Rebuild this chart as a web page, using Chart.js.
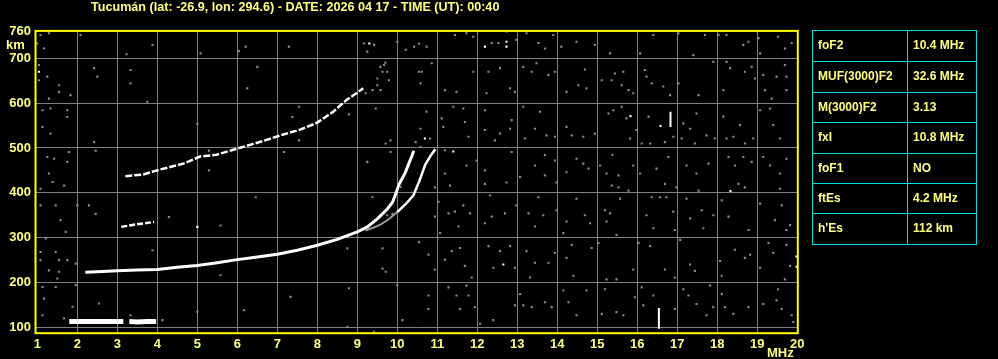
<!DOCTYPE html>
<html>
<head>
<meta charset="utf-8">
<script src="https://cdn.jsdelivr.net/npm/chart.js@4"></script>
<style>
  html, body { margin:0; padding:0; background:#000; }
  #wrap { position:relative; width:998px; height:359px; overflow:hidden; }
  #titulo { position:absolute; left:91px; top:-1px; color:#ffff80; font:bold 13px "Liberation Sans", Arial, sans-serif; white-space:nowrap; transform-origin:left top; }
  #tabla { position:absolute; left:812px; top:30px; width:165px; border:1px solid #00e0e0; box-sizing:border-box; }
  .fila { display:flex; height:30.4px; border-top:1px solid #00e0e0; box-sizing:border-box; }
  .fila:first-child { border-top:none; }
  .fila div { color:#ffff80; font:bold 12px "Liberation Sans", Arial, sans-serif; line-height:29px; padding-left:5px; box-sizing:border-box; }
  .fila div:first-child { width:95px; border-right:1px solid #00e0e0; }
</style>
</head>
<body>
<div id="wrap">
  <canvas id="ionograma" width="998" height="359"></canvas>
  <div id="titulo">Tucumán (lat: -26.9, lon: 294.6) - DATE: 2026 04 17 - TIME (UT): 00:40</div>
  <div id="tabla"></div>
</div>
<script>
//========================= datos del ionograma ============================
const xTicks = [1,2,3,4,5,6,7,8,9,10,11,12,13,14,15,16,17,18,19,20];   // MHz
const yTicks = [100,200,300,400,500,600,700,760];                        // km

const paramNames  = ['foF2','MUF(3000)F2','M(3000)F2','fxI','foF1','ftEs',"h'Es"];
const paramValues = ['10.4 MHz','32.6 MHz','3.13','10.8 MHz','NO','4.2 MHz','112 km'];

// capa Es
const esFreq   = [1.80,2.00,2.30,2.60,2.90,3.15,null,3.30,3.50,3.75,3.97];
const esHeight = [113,113,113,113,113,113,null,113,112,113,113];

// traza F ordinaria
const foFreq   = [2.20,2.50,3.00,3.50,4.00,4.50,5.00,5.50,6.00,6.50,7.00,7.50,8.00,8.50,9.00,9.25,9.50,9.75,9.88,9.95,10.05,10.20,10.30,10.36,10.41];
const foHeight = [223,224,226,228,229,234,238,244,251,257,263,272,283,296,313,324,342,364,379,395,420,445,468,481,494];

// traza F extraordinaria
const fxFreqGray   = [9.20,9.40,9.60,9.80,10.00];
const fxHeightGray = [316,322,330,342,357];
const fxFreq   = [10.00,10.20,10.40,10.55,10.70,10.85,10.95];
const fxHeight = [357,374,394,426,463,485,497];

// segundo salto F
const f2Freq   = [3.20,3.65,4.07,4.65,5.07,5.48,5.90,6.32,6.73,7.15,7.57,7.99,8.40,8.73,9.15];
const f2Height = [437,441,452,465,481,485,496,507,518,530,541,556,581,607,633];

// eco a ~330 km
const e2Freq   = [3.10,3.50,3.92];
const e2Height = [324,330,335];

// espigas verticales
const spike1Freq = [16.54,16.54], spike1Height = [97,143];
const spike2Freq = [16.83,16.83], spike2Height = [547,581];

// ecos blancos sueltos
const whiteDots = [[12.19,726],[12.73,737],[12.73,726],[10.69,521],[11.40,492],[15.83,571],[16.58,549],
  [18.33,404],[12.65,240],[19.98,235],[1.04,670],[5.00,324],[9.30,733],[19.98,258]];

// ruido gris
const noisePts = [
  [10.73,726],[11.44,752],[11.73,756],[11.90,748],[12.36,734],[12.53,734],[12.73,760],[12.98,741],[13.23,756],[13.53,734],
  [13.69,722],[13.90,752],[14.10,726],[14.48,737],[14.94,730],[15.03,761],[15.32,711],[15.65,761],[16.07,711],[16.40,752],
  [17.03,756],[17.19,761],[17.40,707],[17.69,752],[18.03,752],[18.23,752],[18.65,730],[18.78,737],[19.03,745],[19.07,711],
  [19.52,748],[19.69,722],[19.86,734],
  [10.61,670],[10.86,689],[11.19,629],[11.48,625],[11.90,670],[12.28,670],[12.23,622],[12.57,678],[12.82,633],[12.94,625],
  [13.15,681],[13.36,670],[13.48,689],[13.78,663],[13.94,670],[14.23,625],[14.53,640],[14.69,675],[14.73,633],[15.11,651],
  [15.36,651],[15.44,666],[15.65,670],[15.61,640],[15.78,629],[15.90,622],[16.19,674],[16.23,659],[16.36,644],[16.65,637],
  [16.82,618],[17.03,644],[17.53,618],[17.90,692],[18.15,629],[18.23,692],[18.32,678],[18.69,670],[18.86,681],[18.94,655],
  [19.15,663],[19.19,629],[19.36,610],[19.48,659],[19.69,685],[19.73,629],[19.73,659],
  [10.73,581],[10.82,521],[11.11,566],[11.15,547],[11.40,592],[11.65,588],[11.69,558],[11.78,525],[12.19,584],[12.19,540],
  [12.44,517],[12.57,532],[12.86,562],[12.82,543],[13.15,592],[13.19,521],[13.44,543],[13.57,581],[13.73,528],[13.94,525],
  [14.23,547],[14.36,528],[14.65,525],[14.94,532],[15.28,577],[15.40,584],[15.61,592],[15.73,566],[15.82,521],[15.98,540],
  [16.11,510],[16.28,570],[16.32,510],[16.69,513],[16.90,525],[17.11,521],[17.15,555],[17.32,543],[17.44,510],[17.48,577],
  [17.73,528],[17.94,521],[18.15,570],[18.23,521],[18.40,525],[18.57,551],[18.69,510],[18.90,521],[19.07,584],[19.32,588],
  [19.40,551],[19.57,521],
  [11.19,495],[11.19,443],[11.73,461],[11.98,472],[12.19,450],[12.86,491],[13.07,435],[13.44,461],[13.69,484],[13.69,439],
  [13.94,472],[14.23,446],[14.48,476],[14.65,465],[14.78,454],[15.07,461],[15.23,443],[15.38,485],[15.53,439],[15.90,461],
  [16.07,443],[16.48,454],[16.78,480],[17.23,461],[17.48,443],[17.78,465],[18.28,480],[18.44,461],[18.65,480],[18.86,469],
  [19.15,480],[19.32,461],[19.57,443],[19.73,476],
  [10.94,412],[11.32,416],[12.19,420],[12.73,423],[13.98,423],[15.36,416],[15.53,412],[15.78,405],[16.69,420],[16.98,412],
  [17.53,405],[18.53,420],[18.69,412],[19.57,409],
  [10.94,347],[11.03,380],[11.28,354],[11.44,358],[11.65,372],[11.82,354],[11.53,325],[11.07,310],[12.19,332],[12.36,347],
  [12.69,354],[12.32,394],[12.98,372],[13.28,354],[13.53,390],[13.65,350],[13.44,325],[13.98,361],[14.23,336],[14.48,387],
  [14.69,350],[14.82,332],[14.15,310],[15.19,361],[15.32,354],[15.57,387],[15.23,336],[15.48,306],[16.23,350],[16.36,390],
  [16.40,321],[16.57,390],[16.73,390],[16.90,358],[16.94,317],[17.23,387],[17.32,343],[17.61,361],[17.65,321],[17.90,350],
  [18.11,383],[18.28,347],[18.78,317],[19.07,376],[19.44,339],[19.61,372],[19.82,328],[19.73,317],
  [10.78,262],[10.94,229],[11.19,251],[11.36,270],[11.57,277],[11.69,237],[11.86,211],[12.28,281],[12.57,270],[12.40,233],
  [12.82,281],[12.94,233],[13.23,270],[13.32,211],[13.44,244],[13.78,244],[13.94,266],[14.23,255],[14.40,215],[14.36,284],
  [14.86,277],[15.03,288],[15.23,207],[15.48,207],[15.90,229],[16.03,288],[16.32,281],[16.69,229],[16.94,211],[17.07,295],
  [17.32,240],[17.44,226],[18.07,248],[18.11,215],[18.44,273],[18.69,255],[18.82,262],[19.07,233],[19.28,288],[19.40,266],
  [19.73,284],[19.82,237],[19.69,207],
  [10.78,171],[10.78,141],[11.28,189],[11.48,171],[11.78,171],[11.57,141],[11.73,193],[11.94,145],[12.07,108],[12.40,116],
  [12.94,149],[13.07,174],[13.15,149],[13.36,145],[13.69,156],[13.86,145],[14.15,182],[14.28,156],[14.48,127],[14.73,182],
  [15.19,185],[15.11,130],[15.48,134],[15.65,127],[15.94,167],[16.11,189],[16.15,149],[16.40,171],[16.94,141],[17.15,185],
  [17.28,171],[17.48,152],[17.73,127],[17.82,193],[17.90,145],[18.11,174],[18.19,145],[18.40,130],[18.78,145],[19.15,152],
  [19.48,160],[19.52,185],[19.61,141],[19.86,127],[19.90,112],
  [1.08,752],[1.29,756],[2.08,752],[1.00,733],[1.17,722],[1.04,685],[1.04,651],[1.25,659],[1.54,640],[1.54,625],
  [1.83,618],[1.29,610],[1.13,584],[1.33,588],[1.75,584],[1.13,547],[1.33,532],[1.75,569],[2.42,678],[2.50,659],
  [3.23,709],[3.33,674],[3.33,644],[3.75,603],[3.88,730],[5.00,554],[5.08,711],[6.04,716],[6.21,726],[6.25,633],
  [6.50,681],[7.29,726],[7.54,761],[7.54,592],[7.38,569],[8.79,575],[7.54,517],[9.17,733],[9.25,715],[9.42,730],
  [10.00,737],[10.21,719],[10.42,726],[10.54,733],[9.58,681],[9.67,685],[9.75,670],[9.79,651],[9.50,655],[9.58,629],
  [9.46,588],[9.83,517],[10.54,670],[10.58,644],[10.58,543],[10.46,513],[9.71,510],[9.83,491],[10.58,502],[1.25,480],
  [1.42,476],[1.79,491],[1.75,469],[1.29,443],[2.42,513],[2.46,494],[5.29,494],[5.29,450],[7.17,491],[9.25,469],
  [9.21,622],[9.38,629],[9.50,640],[9.63,670],[9.70,690],
  [1.08,409],[1.67,416],[1.38,424],[1.08,372],[1.46,372],[1.58,339],[1.71,313],[2.00,372],[2.29,372],[2.46,353],
  [1.21,298],[1.08,268],[1.46,268],[1.54,250],[1.75,250],[1.08,250],[1.96,242],[1.29,227],[1.54,224],[1.50,209],
  [1.13,190],[1.46,190],[1.96,194],[1.17,164],[1.13,127],[1.88,146],[2.54,153],[1.67,120],[3.33,127],[4.13,116],
  [3.88,272],[4.29,346],[5.58,327],[6.46,390],[5.00,135],[5.58,216],[6.17,138],[7.33,168],[8.75,276],[8.79,187],
  [9.38,390],[9.63,276],[9.63,231],[9.71,224],[10.00,194],[10.13,116],[10.54,290],[8.75,101],[9.42,90],[10.08,413],
  [9.75,350],[9.88,353]
];

//========================= armado de la tabla ============================
const tabla = document.getElementById('tabla');
paramNames.forEach((n,i) => {
  const fila = document.createElement('div');
  fila.className = 'fila';
  fila.innerHTML = '<div>' + n + '</div><div>' + paramValues[i] + '</div>';
  tabla.appendChild(fila);
});

// ajustar el ancho del titulo al original
const tit = document.getElementById('titulo');
tit.style.transform = 'scaleX(' + (408 / tit.offsetWidth) + ')';

//========================= grafico ============================
const toXY = (fs, hs) => fs.map((f,i) => f === null ? {x:null, y:null} : ({x:f, y:hs[i]}));
const amarillo = '#ffff80';
const fuente = {family:'Liberation Sans', weight:'bold', size:13};

function traza(fs, hs, ancho, color, dash){
  return {
    data: toXY(fs, hs), showLine: true, spanGaps: false,
    borderColor: color || '#ffffff', borderWidth: ancho, borderDash: dash || [],
    pointRadius: 0, tension: 0, borderCapStyle: 'butt'
  };
}

const marco = {
  id: 'marco',
  afterDraw(chart){
    const {ctx, chartArea:a} = chart;
    ctx.save();
    ctx.strokeStyle = '#ffff00';
    ctx.lineWidth = 2;
    ctx.strokeRect(a.left - 0.5, a.top - 0.5, a.right - a.left + 1, a.bottom - a.top + 1);
    ctx.fillStyle = amarillo;
    ctx.font = 'bold 13px "Liberation Sans"';
    ctx.textBaseline = 'alphabetic';
    ctx.fillText('km', 6, 49);
    ctx.fillText('MHz', 767, 357);
    ctx.restore();
  }
};

new Chart(document.getElementById('ionograma'), {
  type: 'scatter',
  data: {
    datasets: [
      { data: noisePts.map(p => ({x:p[0], y:p[1]})), pointStyle:'rect', pointRadius:1.5, borderWidth:0, backgroundColor:'#8c8c8c' },
      traza(fxFreqGray, fxHeightGray, 2, '#9a9a9a'),
      traza(e2Freq, e2Height, 2.5, '#ffffff', [6,2]),
      traza(f2Freq, f2Height, 2.5, '#ffffff', [7,2]),
      traza(esFreq, esHeight, 5),
      traza(foFreq, foHeight, 3),
      traza(fxFreq, fxHeight, 2.5),
      traza(spike1Freq, spike1Height, 2),
      traza(spike2Freq, spike2Height, 2),
      { data: whiteDots.map(p => ({x:p[0], y:p[1]})), pointStyle:'rect', pointRadius:1.5, borderWidth:0, backgroundColor:'#ffffff' }
    ]
  },
  options: {
    responsive: false,
    animation: false,
    events: [],
    layout: { padding: { left:0, right:200.7, top:31.4, bottom:0 } },
    plugins: { legend:{display:false}, title:{display:false}, tooltip:{enabled:false} },
    scales: {
      x: {
        type: 'linear', min: 0.9675, max: 20,
        afterBuildTicks: s => { s.ticks = xTicks.map(v => ({value:v})); },
        afterFit: s => { s.height = 26.3; },
        grid: { color: c => (c.tick && (c.tick.value === 1 || c.tick.value === 20)) ? 'rgba(0,0,0,0)' : '#808080', lineWidth:1, drawTicks:false },
        border: { display:false },
        ticks: { color: amarillo, font: fuente, padding: 4, maxRotation: 0, autoSkip: false }
      },
      y: {
        type: 'linear', min: 88, max: 760,
        afterBuildTicks: s => { s.ticks = yTicks.map(v => ({value:v})); },
        afterFit: s => { s.width = 36; },
        grid: { color: c => (c.tick && c.tick.value === 760) ? 'rgba(0,0,0,0)' : '#808080', lineWidth:1, drawTicks:false },
        border: { display:false },
        ticks: { color: amarillo, font: fuente, padding: 5, autoSkip: false }
      }
    }
  },
  plugins: [marco]
});
</script>
</body>
</html>
